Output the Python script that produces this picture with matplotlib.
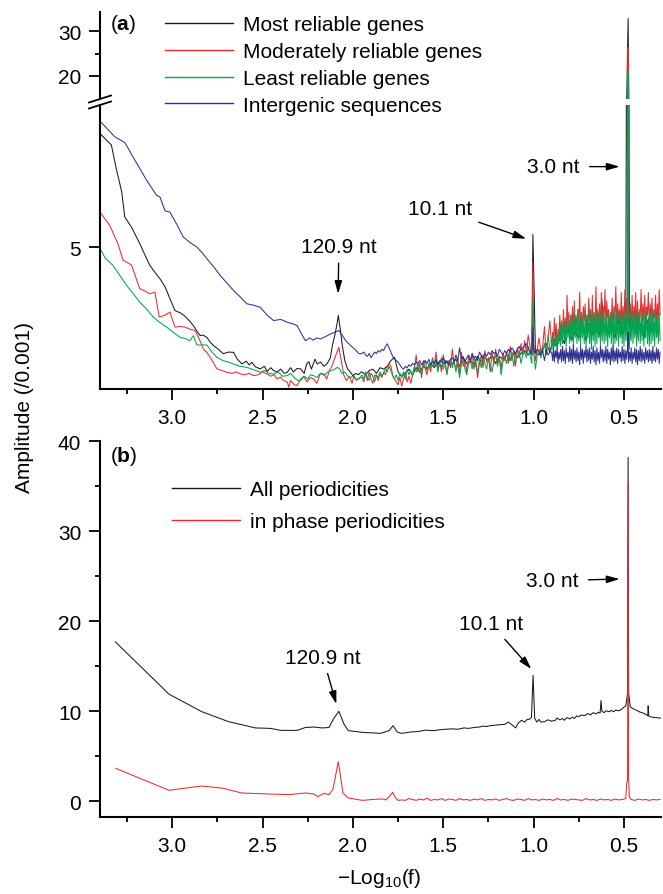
import numpy as np
import matplotlib
matplotlib.use('Agg')
import matplotlib.pyplot as plt
from matplotlib.lines import Line2D

plt.rcParams['font.family'] = ['Liberation Sans', 'DejaVu Sans']
plt.rcParams['mathtext.fontset'] = 'custom'
plt.rcParams['mathtext.rm'] = 'Liberation Sans'
plt.rcParams['mathtext.bf'] = 'Liberation Sans:bold'
plt.rcParams['mathtext.it'] = 'Liberation Sans:italic'

# ---------------- data : panel (a) ----------------
labels_a = ["Most reliable genes", "Moderately reliable genes",
            "Least reliable genes", "Intergenic sequences"]
colors_a = ["#1a1a1a", "#ee2a2e", "#00a651", "#2e3192"]

black_a_left = [(3.40, 9.0), (3.37, 8.8), (3.337, 8.59), (3.31, 7.76), (3.28, 6.95), (3.263, 6.06),
                (3.226, 5.7), (3.18, 5.12), (3.15, 4.7), (3.124, 4.35), (3.095, 4.1), (3.068, 3.88),
                (3.04, 3.6), (3.013, 3.18), (2.985, 2.76), (2.955, 2.68), (2.929, 2.56), (2.905, 2.4),
                (2.883, 2.23), (2.865, 2.05), (2.846, 1.88), (2.83, 1.9), (2.809, 1.82), (2.79, 1.65),
                (2.772, 1.53), (2.745, 1.4), (2.717, 1.24), (2.69, 1.3), (2.661, 1.29), (2.64, 1.05),
                (2.614, 0.88), (2.59, 0.98), (2.575, 0.85), (2.559, 0.94), (2.54, 0.78), (2.513, 0.71),
                (2.49, 0.8), (2.475, 0.62), (2.455, 0.75), (2.439, 0.65), (2.42, 0.6), (2.40, 0.7),
                (2.38, 0.55), (2.364, 0.59), (2.345, 0.75), (2.33, 0.6), (2.31, 0.72), (2.29, 0.71),
                (2.27, 0.55), (2.255, 0.9), (2.244, 0.96), (2.23, 0.7), (2.21, 1.05), (2.198, 0.88),
                (2.18, 0.95), (2.16, 0.8), (2.142, 0.9), (2.125, 1.1), (2.114, 1.53), (2.10, 1.9),
                (2.088, 2.3), (2.081, 2.59), (2.07, 2.1), (2.059, 1.53), (2.045, 1.0), (2.03, 0.71),
                (2.015, 0.6), (2.0, 0.47), (1.985, 0.55), (1.97, 0.5), (1.955, 0.6)]
black_a_noise = [0.6, 0.5, 0.65, 0.7, 0.55, 0.75, 0.7, 0.8, 1.0, 1.12,
                 0.6, 0.45, 0.55, 0.7, 0.5, 0.75, 0.6, 0.8, 0.7, 0.9,
                 0.75, 0.95, 0.8, 1.0, 0.85, 0.9, 1.05, 0.8, 1.1, 0.9,
                 1.0, 0.85, 1.15, 0.95, 1.1, 1.0, 1.2, 0.9, 1.15, 1.05,
                 1.2, 1.0, 1.3, 1.1, 1.25, 1.35, 1.2, 1.4, 1.3, 1.2,
                 1.4, 1.6, 1.3, 1.8, 1.5, 1.9, 1.6, 2.1, 1.7, 2.0,
                 1.8, 2.2, 1.7, 2.3, 1.9, 2.4, 1.8, 2.2, 1.9, 2.3,
                 1.8, 2.4, 1.9, 2.2, 1.7, 2.5, 1.9, 2.3, 1.8, 2.4,
                 2.0, 2.3, 1.9]
black_a_peaks = [(1.004, 5.44), (0.624, 3.24), (0.477, 32.9)]

red_a_left = [(3.40, 6.23), (3.346, 5.76), (3.30, 5.1), (3.272, 4.53), (3.226, 4.37), (3.18, 3.53),
              (3.15, 3.45), (3.124, 3.35), (3.096, 3.41), (3.072, 2.53), (3.04, 2.6), (3.013, 2.71),
              (2.985, 2.18), (2.955, 2.2), (2.929, 2.18), (2.90, 2.1), (2.874, 2.06), (2.85, 1.75),
              (2.828, 1.41), (2.81, 1.3), (2.79, 1.12), (2.77, 0.9), (2.753, 0.71), (2.725, 0.65),
              (2.698, 0.59), (2.67, 0.55), (2.645, 0.6), (2.624, 0.53), (2.60, 0.5), (2.575, 0.55),
              (2.55, 0.47), (2.525, 0.5), (2.50, 0.6), (2.476, 0.53), (2.455, 0.45), (2.435, 0.5),
              (2.42, 0.35), (2.40, 0.42), (2.385, 0.3), (2.363, 0.24), (2.355, 0.06), (2.345, 0.3),
              (2.325, 0.15), (2.309, 0.12), (2.29, 0.35), (2.272, 0.45), (2.255, 0.25), (2.235, 0.4),
              (2.217, 0.35), (2.20, 0.2), (2.18, 0.55), (2.161, 0.53), (2.145, 0.35), (2.13, 0.65),
              (2.115, 0.82), (2.10, 1.1), (2.088, 1.3), (2.078, 1.47), (2.065, 1.0), (2.05, 0.47),
              (2.035, 0.3), (2.02, 0.45), (2.005, 0.2), (1.994, 0.47), (1.98, 0.3), (1.965, 0.4)]
red_a_mid = [0.4, 0.25, 0.55, 0.3, 0.6, 0.35, 0.2, 0.5, 0.45, 0.3,
             0.55, 0.4, 0.6, 0.5, 0.75, 0.9, 0.8, 0.5, 0.35, 0.25,
             0.15, 0.4, 0.1, 0.35, 0.6, 0.25, 0.45, 0.2, 0.5, 0.7,
             1.2, 0.6, 0.9, 0.4, 1.0, 0.7, 0.5, 0.85, 0.6, 1.1,
             0.8, 1.3, 0.7, 0.95, 0.6, 1.2, 0.85, 0.5, 1.0, 0.75,
             1.4, 0.9, 0.7, 1.1, 0.5, 1.3, 0.8, 1.0, 0.6, 1.15,
             0.9, 1.25, 0.7, 1.05, 0.4, 0.9, 1.2, 0.75, 1.35, 0.95,
             1.1, 0.6, 1.3, 0.85, 1.4, 0.9, 1.15, 0.7, 1.25, 1.0,
             1.3, 0.9, 1.5, 1.0, 1.35, 0.8, 1.45, 1.1, 1.6, 1.2,
             1.7, 1.3, 1.9, 1.5, 1.2, 1.6, 1.0, 1.4, 1.8, 1.3,
             1.5, 2.2, 1.2, 1.8, 2.4]
red_a_dense = [1.4, 2.0, 1.6, 2.5, 1.7, 2.3, 1.5, 2.1, 1.8, 2.6,
               1.9, 2.4, 1.6, 2.8, 2.0, 2.5, 1.7, 3.3, 2.1, 2.7,
               1.8, 2.6, 2.2, 2.9, 2.0, 3.1, 2.2, 2.6, 1.9, 2.8,
               2.3, 3.4, 2.1, 2.7, 2.0, 2.9, 2.4, 3.0, 1.9, 2.6,
               2.2, 3.2, 2.4, 2.8, 1.9, 3.3, 2.2, 2.7, 2.0, 3.6,
               2.1, 2.8, 2.3, 3.0, 2.0, 3.4, 2.2, 2.9, 2.4, 3.5,
               2.2, 3.1, 2.5, 2.8, 2.0, 2.7, 2.3, 3.2, 2.1, 2.9,
               2.4, 3.6, 2.2, 3.0, 2.4, 2.8, 2.1, 3.4, 2.3, 2.9,
               2.1, 3.5, 2.3, 3.2, 2.2, 2.8, 2.5, 3.0, 2.1, 3.3,
               2.2, 2.9, 2.4, 3.4, 2.0, 3.1, 2.3, 2.7, 2.5, 3.5,
               2.1, 3.0, 2.4, 3.3, 2.2, 2.9, 2.6, 3.4, 2.2, 3.0,
               2.4, 3.2, 2.3, 2.8, 2.5, 3.3, 2.2, 3.0, 2.4, 3.5,
               2.6]
red_a_peaks = [(1.004, 4.47), (0.477, 26.4)]

green_a_left = [(3.40, 4.94), (3.37, 4.6), (3.328, 4.35), (3.29, 4.0), (3.253, 3.65), (3.215, 3.35),
                (3.18, 3.06), (3.14, 2.8), (3.105, 2.53), (3.07, 2.35), (3.031, 2.18), (2.995, 2.0),
                (2.957, 1.82), (2.93, 1.78), (2.902, 1.70), (2.883, 1.88), (2.864, 1.55), (2.835, 1.55),
                (2.809, 1.55), (2.78, 1.3), (2.753, 1.12), (2.72, 1.0), (2.69, 0.95), (2.661, 0.88),
                (2.625, 0.8), (2.587, 0.76), (2.55, 0.68), (2.513, 0.59), (2.49, 0.65), (2.465, 0.55),
                (2.439, 0.53), (2.415, 0.6), (2.39, 0.45), (2.364, 0.47), (2.345, 0.55), (2.325, 0.4),
                (2.305, 0.3), (2.29, 0.29), (2.27, 0.45), (2.25, 0.35), (2.235, 0.5), (2.217, 0.47),
                (2.20, 0.4), (2.18, 0.55), (2.16, 0.48), (2.142, 0.59), (2.12, 0.65), (2.10, 0.7),
                (2.087, 0.76), (2.075, 0.72), (2.06, 0.55), (2.045, 0.6), (2.031, 0.47), (2.015, 0.4),
                (2.0, 0.45), (1.985, 0.35), (1.966, 0.35)]
green_a_mid = [0.5, 0.35, 0.6, 0.4, 0.3, 0.55, 0.45, 0.25, 0.5, 0.4,
               0.6, 0.45, 0.55, 0.7, 0.6, 0.8, 0.65, 0.45, 0.35, 0.5,
               0.3, 0.55, 0.4, 0.6, 0.35, 0.7, 0.5, 0.65, 0.45, 0.8,
               0.6, 0.9, 0.7, 0.5, 0.85, 1.0, 0.65, 0.9, 0.75, 1.05,
               0.8, 1.0, 0.6, 0.9, 1.1, 0.7, 0.95, 0.55, 0.85, 1.05,
               0.75, 1.0, 0.6, 0.9, 0.4, 0.85, 1.1, 0.7, 0.5, 0.9,
               1.0, 0.7, 1.15, 0.8, 0.6, 1.05, 0.75, 1.2, 0.9, 0.7,
               1.1, 0.85, 0.6, 1.0, 1.2, 0.8, 1.1, 0.5, 0.95, 1.15,
               0.9, 1.25, 1.0, 1.3, 0.8, 1.2, 1.1, 1.35, 0.9, 1.2,
               1.3, 1.1, 1.5, 1.2, 0.9, 1.3, 0.7, 1.2, 1.4, 1.1,
               1.3, 1.6, 1.2, 1.9, 1.4]
green_a_dense = [1.4, 1.9, 1.3, 1.7, 1.5, 2.0, 1.4, 1.8, 1.6, 2.2,
                 1.5, 2.3, 1.6, 2.4, 1.7, 2.2, 1.5, 2.5, 1.8, 2.3,
                 1.6, 2.6, 1.7, 2.4, 1.5, 2.7, 1.8, 2.5, 1.6, 2.8,
                 1.7, 2.5, 1.5, 2.6, 1.8, 2.4, 1.6, 2.7, 1.5, 2.6,
                 1.8, 2.8, 1.6, 2.5, 1.4, 2.7, 1.7, 2.6, 1.5, 2.8,
                 1.6, 2.5, 1.8, 2.7, 1.5, 2.6, 1.7, 2.8, 1.6, 2.5,
                 1.7, 2.7, 1.5, 2.6, 1.8, 2.5, 1.6, 2.8, 1.5, 2.7,
                 1.6, 2.6, 1.7, 2.8, 1.5, 2.5, 1.8, 2.7, 1.6, 2.6,
                 1.5, 2.8, 1.7, 2.5, 1.6, 2.7, 1.4, 2.6, 1.7, 2.8,
                 1.6, 2.5, 1.8, 2.7, 1.5, 2.6, 1.7, 2.8, 1.6, 2.5,
                 1.7, 2.7, 1.5, 2.6, 1.8, 2.8, 1.6, 2.5, 1.5, 2.7,
                 1.6, 2.8, 1.7, 2.6, 1.5, 2.7, 1.8, 2.5, 1.6, 2.7,
                 1.7]
green_a_peaks = [(1.004, 3.12), (0.477, 20.8)]

blue_a_left = [(3.40, 9.43), (3.318, 8.88), (3.263, 8.68), (3.207, 8.06), (3.142, 7.35), (3.087, 6.82),
               (3.068, 6.76), (3.04, 6.27), (3.013, 6.23), (2.975, 5.8), (2.939, 5.35), (2.90, 5.15),
               (2.864, 5.0), (2.835, 4.8), (2.809, 4.59), (2.77, 4.3), (2.735, 4.0), (2.70, 3.75),
               (2.661, 3.47), (2.625, 3.25), (2.587, 3.0), (2.55, 2.95), (2.513, 2.88), (2.475, 2.6),
               (2.439, 2.41), (2.40, 2.45), (2.363, 2.35), (2.335, 2.3), (2.309, 2.23), (2.29, 2.0),
               (2.263, 1.70), (2.24, 1.8), (2.22, 1.72), (2.20, 1.8), (2.18, 1.76), (2.15, 1.85),
               (2.124, 1.94), (2.10, 2.0), (2.078, 2.06), (2.06, 1.9), (2.04, 1.7), (2.013, 1.53),
               (1.99, 1.4), (1.966, 1.24)]
blue_a_mid = [1.25, 1.3, 1.2, 1.15, 1.25, 1.1, 1.2, 1.3, 1.25, 1.35,
              1.3, 1.4, 1.35, 1.5, 1.59, 1.45, 1.3, 1.15, 1.05, 1.0,
              0.95, 0.85, 0.75, 0.7, 0.8, 0.75, 0.85, 0.8, 0.9, 0.85,
              0.95, 0.9, 1.0, 0.85, 0.95, 1.0, 0.9, 1.05, 0.85, 0.95,
              0.9, 1.05, 0.85, 1.0, 0.95, 1.1, 0.9, 1.0, 0.85, 1.05,
              1.1, 0.95, 1.2, 1.0, 1.45, 1.05, 1.15, 0.95, 1.1, 1.2,
              1.0, 1.25, 1.1, 1.15, 1.0, 1.3, 1.2, 1.1, 1.25, 1.15,
              1.3, 1.2, 1.35, 1.25, 1.3, 1.15, 1.4, 1.3, 1.2, 1.35,
              1.25, 1.4, 1.3, 1.45, 1.35, 1.25, 1.4, 1.5, 1.35, 1.45,
              1.5, 1.6, 1.45, 1.3, 1.2, 1.35, 1.25, 1.4, 1.3, 1.2,
              1.35, 1.0, 1.4, 1.2, 1.3]
blue_a_dense = [1.3, 1.0, 1.4, 0.95, 1.35, 1.1, 1.45, 0.9, 1.3, 1.05,
                1.4, 0.95, 1.5, 1.0, 1.35, 0.9, 1.45, 1.1, 1.3, 0.95,
                1.5, 1.0, 1.4, 0.9, 1.55, 1.05, 1.35, 0.95, 1.45, 1.0,
                1.3, 0.85, 1.5, 1.05, 1.4, 0.9, 1.35, 1.1, 1.5, 0.95,
                1.4, 1.0, 1.45, 0.9, 1.3, 1.05, 1.5, 0.95, 1.35, 0.85,
                1.45, 1.0, 1.3, 0.9, 1.5, 1.1, 1.4, 0.95, 1.35, 1.0,
                1.5, 0.9, 1.4, 1.05, 1.3, 0.85, 1.45, 1.0, 1.55, 0.95,
                1.35, 1.0, 1.45, 0.9, 1.4, 1.1, 1.3, 0.95, 1.5, 1.0,
                1.4, 0.9, 1.35, 1.05, 1.5, 0.95, 1.3, 1.0, 1.45, 0.9,
                1.3, 1.05, 1.45, 0.95, 1.4, 0.85, 1.35, 1.0, 1.5, 0.95,
                1.4, 1.0, 1.3, 0.9, 1.45, 1.05, 1.35, 0.95, 1.4, 1.0,
                1.35, 0.9, 1.5, 1.0, 1.3, 0.95, 1.45, 1.05, 1.4, 0.9,
                1.3]
blue_a_peaks = [(1.004, 2.18), (0.477, 2.0)]

# ---------------- data : panel (b) ----------------
labels_b = ["All periodicities", "in phase periodicities"]
colors_b = ["#1a1a1a", "#ee2a2e"]

black_b = [(3.314, 17.7), (3.018, 11.9), (2.837, 9.96), (2.689, 8.85), (2.54, 8.15), (2.457, 8.1),
           (2.40, 7.88), (2.309, 7.88), (2.263, 8.2), (2.217, 8.25), (2.17, 8.15), (2.133, 8.2),
           (2.106, 9.2), (2.078, 10.0), (2.05, 8.6), (2.026, 7.85), (1.948, 7.66), (1.846, 7.55),
           (1.80, 7.85), (1.778, 8.4), (1.755, 7.7), (1.73, 7.55), (1.68, 7.7), (1.64, 7.75),
           (1.60, 7.9), (1.55, 7.85), (1.52, 7.95), (1.49, 8.0), (1.45, 8.05), (1.42, 8.0),
           (1.386, 8.15), (1.36, 8.1), (1.33, 8.2), (1.30, 8.25), (1.28, 8.36), (1.26, 8.3),
           (1.24, 8.4), (1.215, 8.45), (1.195, 8.5), (1.16, 8.55), (1.14, 8.8), (1.12, 8.5),
           (1.10, 8.15), (1.085, 8.7), (1.067, 9.0), (1.05, 8.8), (1.035, 9.1), (1.025, 9.1),
           (1.012, 9.3), (1.003, 14.0), (0.994, 9.2), (0.982, 8.8), (0.97, 9.1), (0.96, 8.8),
           (0.94, 8.85), (0.92, 9.05), (0.90, 8.9), (0.88, 9.0), (0.87, 9.25), (0.855, 9.05),
           (0.84, 9.2), (0.83, 9.0), (0.815, 9.3), (0.80, 9.15), (0.785, 9.35), (0.775, 9.2),
           (0.76, 9.5), (0.749, 9.4), (0.735, 9.6), (0.72, 9.5), (0.70, 9.75), (0.685, 9.6),
           (0.67, 9.85), (0.655, 9.7), (0.642, 9.9), (0.632, 9.8), (0.627, 11.2), (0.622, 10.0),
           (0.61, 9.85), (0.60, 10.05), (0.58, 9.95), (0.57, 10.1), (0.557, 9.95), (0.545, 10.15),
           (0.53, 10.05), (0.515, 10.2), (0.504, 10.4), (0.49, 10.6), (0.48, 12.0), (0.477, 38.2),
           (0.474, 12.0), (0.465, 10.5), (0.451, 10.3), (0.44, 10.2), (0.43, 10.1), (0.42, 10.0),
           (0.41, 9.9), (0.40, 9.85), (0.387, 9.74), (0.375, 9.6), (0.368, 9.5), (0.366, 10.6),
           (0.363, 9.5), (0.355, 9.4), (0.345, 9.37), (0.332, 9.3), (0.32, 9.3), (0.31, 9.25),
           (0.298, 9.26)]

red_b_left = [(3.314, 3.67), (3.018, 1.22), (2.837, 1.70), (2.717, 1.44), (2.615, 0.92), (2.467, 0.81),
              (2.355, 0.74), (2.263, 0.92), (2.217, 0.81), (2.193, 0.52), (2.161, 0.89), (2.133, 0.74),
              (2.111, 1.3), (2.081, 4.4), (2.055, 0.92), (2.026, 0.37), (1.948, 0.1), (1.893, 0.2),
              (1.837, 0.26), (1.818, 0.15), (1.795, 0.6), (1.78, 1.0), (1.765, 0.4), (1.75, 0.1)]
red_b_flat = [0.15, 0.1, 0.3, 0.2, 0.1, 0.25, 0.15, 0.35, 0.1, 0.2,
              0.15, 0.3, 0.1, 0.25, 0.2, 0.1, 0.3, 0.15, 0.2, 0.1,
              0.25, 0.15, 0.3, 0.1, 0.2, 0.15, 0.25, 0.1, 0.2, 0.3,
              0.15, 0.1, 0.25, 0.2, 0.1, 0.3, 0.15, 0.2, 0.1, 0.25,
              0.15, 0.2, 0.1, 0.3, 0.15, 0.2, 0.1, 0.25, 0.2, 0.15,
              0.1, 0.3, 0.15, 0.2, 0.1, 0.25, 0.15, 0.2, 0.1, 0.25,
              0.15, 0.2, 0.3]
red_b_peak = [(0.485, 2.0), (0.480, 2.3), (0.477, 35.4), (0.474, 2.3), (0.470, 0.5)]
red_b_tail = [0.2, 0.1, 0.25, 0.15, 0.2, 0.1, 0.2, 0.15, 0.2]


def assemble(pairs_groups, grids):
    xs, ys = [], []
    for pairs in pairs_groups:
        xs += [p[0] for p in pairs]
        ys += [p[1] for p in pairs]
    for start, end, vals in grids:
        xs += list(np.linspace(start, end, len(vals)))
        ys += list(vals)
    xs = np.array(xs)
    ys = np.array(ys)
    order = np.argsort(-xs, kind="stable")
    return xs[order], ys[order]


series_a = [
    assemble([black_a_left, black_a_peaks], [(1.95, 0.31, black_a_noise)]),
    assemble([red_a_left, red_a_peaks], [(1.95, 0.91, red_a_mid), (0.90, 0.30, red_a_dense)]),
    assemble([green_a_left, green_a_peaks], [(1.95, 0.91, green_a_mid), (0.90, 0.30, green_a_dense)]),
    assemble([blue_a_left, blue_a_peaks], [(1.95, 0.91, blue_a_mid), (0.90, 0.30, blue_a_dense)]),
]
series_b = [
    assemble([black_b], []),
    assemble([red_b_left, red_b_peak], [(1.73, 0.49, red_b_flat), (0.46, 0.30, red_b_tail)]),
]

# ---------------- figure ----------------
W, H = 663, 895
fig = plt.figure(figsize=(W / 100, H / 100), dpi=100)


def fbox(left, top, right, bottom):
    return [left / W, 1 - bottom / H, (right - left) / W, (bottom - top) / H]


ax_hi = fig.add_axes(fbox(100, 13.3, 661, 100))
ax_lo = fig.add_axes(fbox(100, 106, 661, 390))
ax_b = fig.add_axes(fbox(100, 442.3, 661, 818.3))

FS = 15
LW = 0.75
XLIM = (3.40, 0.295)
xmaj = [3.0, 2.5, 2.0, 1.5, 1.0, 0.5]
xmin = [3.25, 2.75, 2.25, 1.75, 1.25, 0.75]

for ax in (ax_hi, ax_lo, ax_b):
    ax.set_xlim(*XLIM)
    for s in ("top", "right"):
        ax.spines[s].set_visible(False)
    for s in ("left", "bottom"):
        ax.spines[s].set_linewidth(1.5)
    ax.tick_params(which="major", direction="out", length=8, width=1.3,
                   labelsize=FS, pad=5.5)
    ax.tick_params(which="minor", direction="out", length=3.5, width=1.3)
    ax.set_xticks(xmaj)
    ax.set_xticks(xmin, minor=True)
    ax.set_xticklabels([f"{v:.1f}" for v in xmaj])
    ax.patch.set_alpha(0)

ax_hi.spines["bottom"].set_visible(False)
ax_hi.tick_params(axis="x", which="both", bottom=False, labelbottom=False)
ax_hi.set_ylim(14.75, 34.3)
ax_hi.set_yticks([20, 30])
ax_hi.set_yticks([25], minor=True)

ax_lo.set_ylim(0, 10)
ax_lo.set_yticks([5])
ax_lo.set_yticks([], minor=True)

ax_b.set_ylim(-1.78, 40)
ax_b.set_yticks([0, 10, 20, 30, 40])
ax_b.set_yticks([5, 15, 25, 35], minor=True)

handles_a = []
for (x, y), c, lab in zip(series_a, colors_a, labels_a):
    ax_lo.plot(x, y, color=c, lw=LW)
    ax_hi.plot(x, y, color=c, lw=LW)
    handles_a.append(Line2D([], [], color=c, lw=1.0, label=lab))

handles_b = []
for (x, y), c, lab in zip(series_b, colors_b, labels_b):
    ax_b.plot(x, y, color=c, lw=LW)
    handles_b.append(Line2D([], [], color=c, lw=1.0, label=lab))

# axis break marks on the left spine of panel (a)
for yy in (100, 106):
    fig.add_artist(Line2D([89 / W, 111 / W], [1 - (yy + 3.5) / H, 1 - (yy - 3.5) / H],
                          transform=fig.transFigure, color="black", lw=1.3))

# legends
fig.legend(handles=handles_a, loc="upper left", bbox_to_anchor=(165 / W, 1 - 16 / H),
           frameon=False, fontsize=FS, handlelength=3.27, handletextpad=0.48,
           labelspacing=0.38, borderpad=0, borderaxespad=0)
fig.legend(handles=handles_b, loc="upper left", bbox_to_anchor=(171.7 / W, 1 - 481 / H),
           frameon=False, fontsize=FS, handlelength=3.27, handletextpad=0.5,
           labelspacing=0.63, borderpad=0, borderaxespad=0)

# annotations
arrow = dict(arrowstyle="-|>,head_length=0.55,head_width=0.16", color="black",
             lw=1.0, mutation_scale=14, shrinkA=3, shrinkB=0)
ax_lo.annotate("120.9 nt", xy=(2.082, 3.35), xytext=(2.078, 5.01), ha="center", va="center",
               fontsize=FS, arrowprops=arrow)
ax_lo.annotate("10.1 nt", xy=(1.041, 5.29), xytext=(1.518, 6.35), ha="center", va="center",
               fontsize=FS, arrowprops=arrow)
ax_lo.annotate("3.0 nt", xy=(0.524, 7.83), xytext=(0.889, 7.83), ha="center", va="center",
               fontsize=FS, arrowprops=dict(arrow, shrinkA=5))
ax_b.annotate("120.9 nt", xy=(2.092, 10.8), xytext=(2.166, 16.0), ha="center", va="center",
              fontsize=FS, arrowprops=arrow)
ax_b.annotate("10.1 nt", xy=(1.013, 14.7), xytext=(1.235, 19.7), ha="center", va="center",
              fontsize=FS, arrowprops=arrow)
ax_b.annotate("3.0 nt", xy=(0.524, 24.7), xytext=(0.896, 24.5), ha="center", va="center",
              fontsize=FS, arrowprops=dict(arrow, shrinkA=5))

# panel labels and axis titles
fig.text(110 / W, 1 - 25 / H, r"($\mathbf{a}$)", fontsize=FS, va="center", ha="left")
fig.text(110 / W, 1 - 457 / H, r"($\mathbf{b}$)", fontsize=FS, va="center", ha="left")
fig.text(25 / W, 1 - 408 / H, "Amplitude (/0.001)", rotation=90, fontsize=FS,
         va="center", ha="center")
fig.text(379 / W, 1 - 879 / H, "\u2212Log$_{10}$(f)", fontsize=FS, va="center", ha="center")

fig.savefig("out.png", dpi=100)
